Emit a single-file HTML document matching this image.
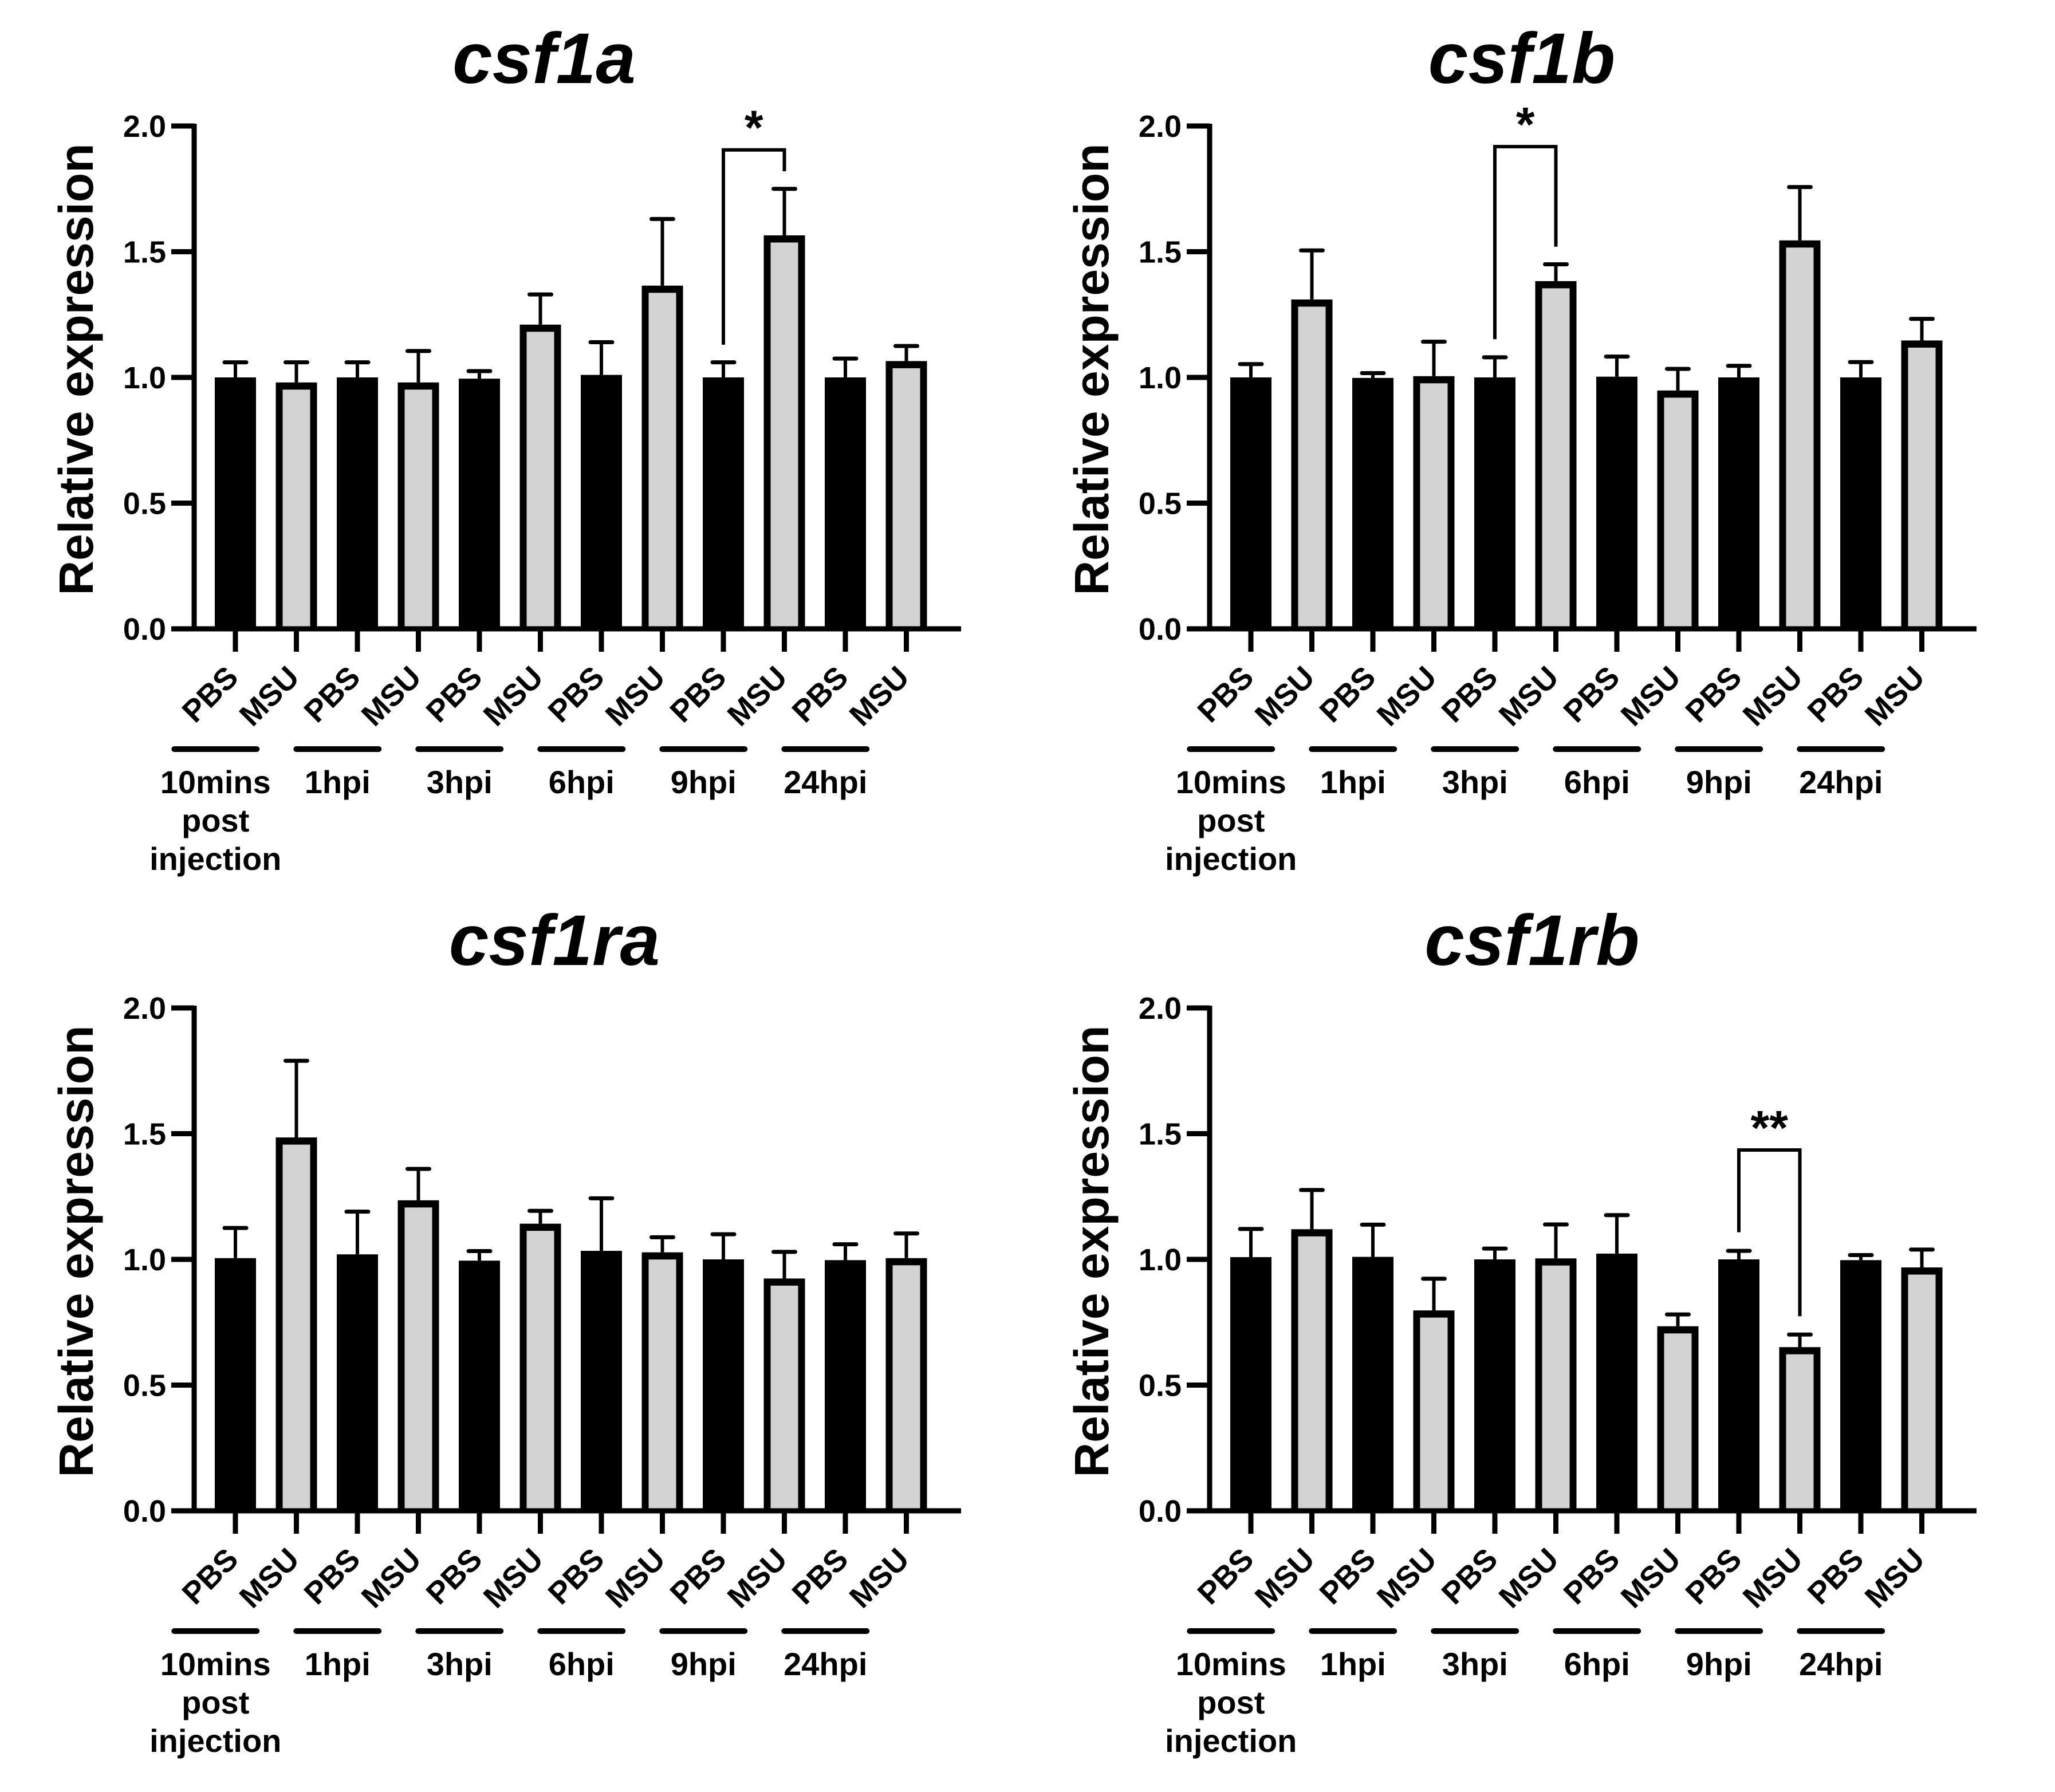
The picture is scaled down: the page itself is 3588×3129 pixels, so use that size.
<!DOCTYPE html>
<html><head><meta charset="utf-8">
<style>
html,body{margin:0;padding:0;background:#fff;}
svg{display:block;}
text{font-family:"Liberation Sans",Arial,sans-serif;font-weight:bold;fill:#000;}
</style></head>
<body>
<svg id="fig" width="3588" height="3129" viewBox="0 0 3588 3129" xmlns="http://www.w3.org/2000/svg"></svg>
<script>
const categories = ["PBS","MSU","PBS","MSU","PBS","MSU","PBS","MSU","PBS","MSU","PBS","MSU"];
const groups = [["10mins","post","injection"],["1hpi"],["3hpi"],["6hpi"],["9hpi"],["24hpi"]];
const yTicks = [0, 0.5, 1, 1.5, 2];
const yTickLabels = ["0.0","0.5","1.0","1.5","2.0"];

const csf1aMeans = [1.0,0.98,1.0,0.98,0.995,1.21,1.01,1.365,1.0,1.565,1.0,1.065];
const csf1aErr = [1.06,1.06,1.06,1.105,1.025,1.33,1.14,1.63,1.06,1.75,1.075,1.125];
const csf1aSig = [8,9,1.905,1.13,1.82,"*"];

const csf1bMeans = [1.0,1.31,0.998,1.005,1.0,1.383,1.003,0.948,1.0,1.545,1.0,1.147];
const csf1bErr = [1.053,1.505,1.017,1.142,1.08,1.45,1.083,1.034,1.046,1.757,1.061,1.233];
const csf1bSig = [4,5,1.918,1.152,1.52,"*"];

const csf1raMeans = [1.005,1.485,1.02,1.235,0.995,1.142,1.034,1.028,1.0,0.924,0.997,1.005];
const csf1raErr = [1.125,1.79,1.19,1.36,1.033,1.193,1.243,1.088,1.1,1.03,1.06,1.103];
const csf1raSig = null;

const csf1rbMeans = [1.009,1.12,1.01,0.797,1.0,1.004,1.023,0.734,1.0,0.651,0.997,0.968];
const csf1rbErr = [1.121,1.276,1.138,0.923,1.043,1.139,1.176,0.781,1.034,0.701,1.017,1.039];
const csf1rbSig = [8,9,1.435,1.108,0.774,"**"];

const NS="http://www.w3.org/2000/svg";
const svg=document.getElementById('fig');
function mk(tag,attrs,parent){const e=document.createElementNS(NS,tag);for(const k in attrs)e.setAttribute(k,attrs[k]);(parent||svg).appendChild(e);return e;}

function drawChart(name,title,titleX,ox,oy,means,errs,sig){
  const g=mk('g',{});
  
  
  const axisX=339+ox, y0=1098+oy, y2=220+oy;
  const yScale=v=>y0-(y0-y2)*v/2;
  const xScale=i=>411+ox+i*106.5;
  const t=mk('text',{x:titleX,y:145+oy,'text-anchor':'middle','font-size':125,'font-style':'italic'},g);
  t.textContent=title;
  
  
  const yl=mk('text',{x:0,y:0,'text-anchor':'middle','font-size':84,transform:`translate(${162+ox},${645+oy}) rotate(-90)`},g);
  yl.textContent="Relative expression";
  
  
  // bars
  for(let i=0;i<means.length;i++){
    const cx=xScale(i), top=yScale(means[i]), et=yScale(errs[i]);
    const el=mk('line',{x1:cx,x2:cx,y1:top,y2:et,stroke:'#000','stroke-width':6},g);
    
    
    const cap=mk('line',{x1:cx-19,x2:cx+19,y1:et,y2:et,stroke:'#000','stroke-width':7,'stroke-linecap':'round'},g);
    
    
    const b=mk('rect',{x:cx-36,y:top,width:72,height:y0-top,fill:'#000'},g);
    
    
    if(i%2===1){
      const inner=mk('rect',{x:cx-24,y:top+12.5,width:48,height:Math.max(0,y0-top-12.5),fill:'#d3d3d3'},g);
      
      
    }
    const tk=mk('line',{x1:cx,x2:cx,y1:y0,y2:y0+40,stroke:'#000','stroke-width':9},g);
    
    
    const lb=mk('text',{x:0,y:0,'text-anchor':'end','font-size':54,transform:`translate(${cx+8},${y0+88}) rotate(-45)`},g);
    lb.textContent=categories[i];
    
    
  }
  // axes
  const ya=mk('line',{x1:axisX,x2:axisX,y1:y2-4,y2:y0+4,stroke:'#000','stroke-width':9},g);
  
  
  const xa=mk('line',{x1:axisX-4,x2:1678+ox,y1:y0,y2:y0,stroke:'#000','stroke-width':9},g);
  
  
  for(let k=0;k<yTicks.length;k++){
    const yy=yScale(yTicks[k]);
    const tl=mk('line',{x1:axisX-40,x2:axisX,y1:yy,y2:yy,stroke:'#000','stroke-width':9},g);
    
    
    const tx=mk('text',{x:axisX-49,y:yy+19,'text-anchor':'end','font-size':54},g);
    tx.textContent=yTickLabels[k];
    
    
  }
  // group lines and labels
  for(let j=0;j<groups.length;j++){
    const c=(xScale(2*j)+xScale(2*j+1))/2-88;
    const gl=mk('line',{x1:c-72,x2:c+72,y1:1308+oy,y2:1308+oy,stroke:'#000','stroke-width':10,'stroke-linecap':'round'},g);
    
    
    groups[j].forEach((ln,li)=>{
      const tx=mk('text',{x:c,y:1385+oy+li*67,'text-anchor':'middle','font-size':56},g);
      tx.textContent=ln;
      
      
    });
  }
  if(sig){
    const xa1=xScale(sig[0]), xa2=xScale(sig[1]), yt=yScale(sig[2]);
    const p=mk('path',{d:`M${xa1},${yScale(sig[3])} V${yt} H${xa2} V${yScale(sig[4])}`,fill:'none',stroke:'#000','stroke-width':6},g);
    
    
    const st=mk('text',{x:(xa1+xa2)/2,y:yt-10,'text-anchor':'middle','font-size':84},g);
    st.textContent=sig[5];
    
    
  }
}
drawChart('csf1a','csf1a',950,0,0,csf1aMeans,csf1aErr,csf1aSig);
drawChart('csf1b','csf1b',2657,1773,0,csf1bMeans,csf1bErr,csf1bSig);
drawChart('csf1ra','csf1ra',968,0,1540,csf1raMeans,csf1raErr,csf1raSig);
drawChart('csf1rb','csf1rb',2675,1773,1540,csf1rbMeans,csf1rbErr,csf1rbSig);
</script>
</body></html>
